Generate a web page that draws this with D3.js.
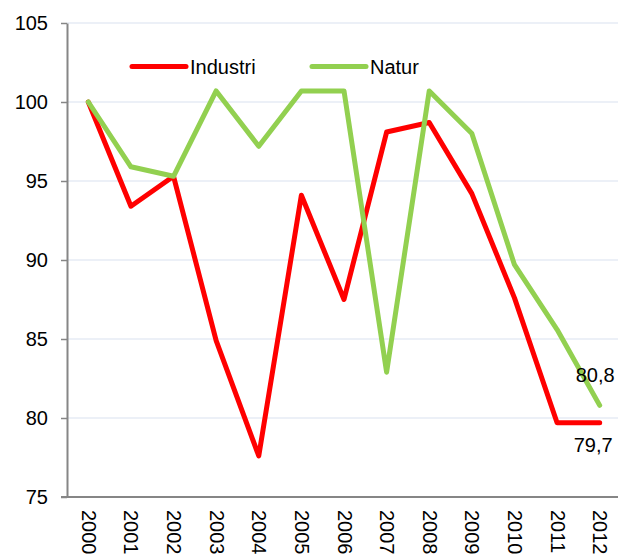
<!DOCTYPE html>
<html>
<head>
<meta charset="utf-8">
<script src="https://cdn.jsdelivr.net/npm/d3@7"></script>
<style>
  body { margin: 0; background: #fff; }
  svg { display: block; font-family: "Liberation Sans", Arial, sans-serif; }
  .axis path, .axis line { stroke: #868686; }
  .axis text { font-size: 20px; fill: #000; }
</style>
</head>
<body>
<div id="chart"></div>
<script>
// data
var years = ["2000","2001","2002","2003","2004","2005","2006","2007","2008","2009","2010","2011","2012"];
var industri = [100, 93.4, 95.3, 84.9, 77.6, 94.1, 87.5, 98.1, 98.7, 94.2, 87.6, 79.7, 79.7];
var natur = [100, 95.9, 95.3, 100.7, 97.2, 100.7, 100.7, 82.9, 100.7, 98.0, 89.7, 85.6, 80.8];
var yTicks = [75, 80, 85, 90, 95, 100, 105];

var width = 618, height = 558;
var margin = {top: 23, right: -3, bottom: 61, left: 67};
var w = width - margin.left - margin.right;
var h = height - margin.top - margin.bottom;

var svg = d3.select("#chart").append("svg")
    .attr("width", width)
    .attr("height", height)
  .append("g")
    .attr("transform", "translate(" + margin.left + "," + margin.top + ")");

var x = d3.scalePoint().domain(years).range([0, w]).padding(0.5);
var y = d3.scaleLinear().domain([75, 105]).range([h, 0]);

// gridlines
svg.append("g")
  .selectAll("line")
  .data(yTicks.slice(1))
  .enter().append("line")
    .attr("x1", 0).attr("x2", w)
    .attr("y1", function(d) { return y(d); })
    .attr("y2", function(d) { return y(d); })
    .attr("stroke", "#d9e1f0")
    .attr("stroke-width", 1.2);

// y axis
var yAxis = svg.append("g")
    .attr("class", "axis")
    .call(d3.axisLeft(y).tickValues(yTicks).tickSize(6).tickPadding(13).tickSizeOuter(0));
yAxis.select(".domain").attr("stroke-width", 2);
yAxis.selectAll(".tick line").attr("stroke-width", 1.5);

// x axis
var xAxis = svg.append("g")
    .attr("class", "axis")
    .attr("transform", "translate(0," + h + ")")
    .call(d3.axisBottom(x).tickSize(0).tickSizeOuter(0));
xAxis.select(".domain").attr("d", "M-6,0H" + w).attr("stroke-width", 2);
xAxis.selectAll(".tick text")
    .attr("transform", "rotate(90)")
    .attr("x", 13)
    .attr("y", 0)
    .attr("dy", "0.35em")
    .attr("text-anchor", "start");

var line = d3.line()
    .x(function(d, i) { return x(years[i]); })
    .y(function(d) { return y(d); });

svg.append("path")
    .datum(industri)
    .attr("fill", "none")
    .attr("stroke", "#ff0000")
    .attr("stroke-width", 5)
    .attr("stroke-linejoin", "round")
    .attr("stroke-linecap", "round")
    .attr("d", line);

svg.append("path")
    .datum(natur)
    .attr("fill", "none")
    .attr("stroke", "#92d050")
    .attr("stroke-width", 5)
    .attr("stroke-linejoin", "round")
    .attr("stroke-linecap", "round")
    .attr("d", line);

// end labels
var last = years.length - 1;
svg.append("text")
    .attr("x", x(years[last]) + 15)
    .attr("y", y(natur[last]) - 23)
    .attr("text-anchor", "end")
    .style("font-size", "20px")
    .text(String(natur[last]).replace(".", ","));
svg.append("text")
    .attr("x", x(years[last]) + 13)
    .attr("y", y(industri[last]) + 29)
    .attr("text-anchor", "end")
    .style("font-size", "20px")
    .text(String(industri[last]).replace(".", ","));

// legend
var legend = [
  {name: "Industri", color: "#ff0000", x: 65},
  {name: "Natur", color: "#92d050", x: 245}
];
var lg = svg.selectAll(".legend")
    .data(legend)
    .enter().append("g")
    .attr("transform", function(d) { return "translate(" + d.x + "," + 43.5 + ")"; });
lg.append("line")
    .attr("x1", 0).attr("x2", 54)
    .attr("stroke", function(d) { return d.color; })
    .attr("stroke-width", 5)
    .attr("stroke-linecap", "round");
lg.append("text")
    .attr("x", 58)
    .attr("y", 7)
    .style("font-size", "20px")
    .text(function(d) { return d.name; });
</script>
</body>
</html>
